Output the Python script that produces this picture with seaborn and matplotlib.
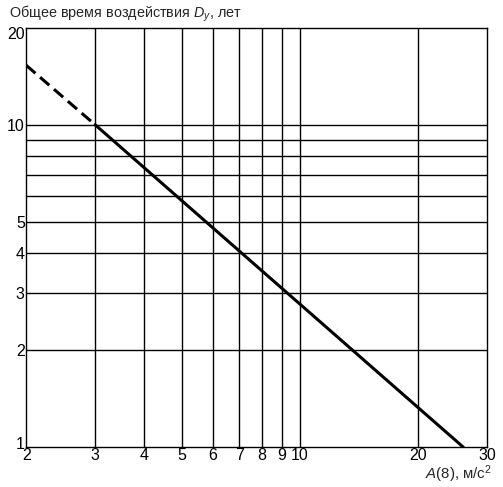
import pandas as pd
import matplotlib
matplotlib.use("Agg")
import matplotlib.pyplot as plt
import matplotlib.transforms as mtransforms
import seaborn as sns

# Exposure duration D_y (years) vs A(8) (m/s^2)
dashed_a = [2.0, 3.0]
dashed_dy = [15.3, 10.0]
solid_a = [3.0, 26.1]
solid_dy = [10.0, 1.0]

x_ticks = [2, 3, 4, 5, 6, 7, 8, 9, 10, 20, 30]
x_grid = [3, 4, 5, 6, 7, 8, 9, 10, 20]
y_ticks = [1, 2, 3, 4, 5, 10, 20]
y_grid = [2, 3, 4, 5, 6, 7, 8, 9, 10]

sns.set_style("white")
plt.rcParams['font.family'] = ['Liberation Sans', 'DejaVu Sans']
plt.rcParams['mathtext.fontset'] = 'custom'
plt.rcParams['mathtext.rm'] = 'Liberation Sans'
plt.rcParams['mathtext.it'] = 'Liberation Sans:italic'

fig = plt.figure(figsize=(5.03, 4.87), dpi=100)
ax = fig.add_axes([0.052, 0.082, 0.916, 0.861])

ax.set_xscale('log')
ax.set_yscale('log')
ax.set_xlim(2, 30)
ax.set_ylim(1, 20)

# grid lines
for x in x_grid:
    ax.axvline(x, color='black', lw=1.0, zorder=1)
for y in y_grid:
    ax.axhline(y, color='black', lw=1.0, zorder=1)

df_dash = pd.DataFrame({'a': dashed_a, 'dy': dashed_dy})
df_solid = pd.DataFrame({'a': solid_a, 'dy': solid_dy})
sns.lineplot(data=df_dash, x='a', y='dy', ax=ax, color='black', lw=2.2,
             linestyle=(0, (4, 2)), zorder=3)
sns.lineplot(data=df_solid, x='a', y='dy', ax=ax, color='black', lw=2.2, zorder=3)

ax.set_xticks(x_ticks)
ax.set_xticklabels([str(v) for v in x_ticks])
ax.set_yticks(y_ticks)
ax.set_yticklabels([str(v) for v in y_ticks])
ax.minorticks_off()
ax.tick_params(axis='both', length=0, labelsize=11.5, colors='black', pad=1)

# nudge the end labels inward like the original
ylabels = ax.get_yticklabels()
ylabels[0].set_transform(ylabels[0].get_transform() +
                         mtransforms.ScaledTranslation(0, 4 / 100, fig.dpi_scale_trans))
ylabels[-1].set_transform(ylabels[-1].get_transform() +
                          mtransforms.ScaledTranslation(0, -5 / 100, fig.dpi_scale_trans))

for s in ax.spines.values():
    s.set_visible(True)
    s.set_color('black')
    s.set_linewidth(1.0)

ax.set_xlabel('')
ax.set_ylabel('')
fig.text(0.018, 0.972, 'Общее время воздействия $\\it{D_y}$, лет', fontsize=10.4,
         ha='left', va='center')
fig.text(0.978, 0.026, '$\\it{A}$(8), м/с$^2$', fontsize=10.8, ha='right', va='center')

fig.savefig('out.png', dpi=100)
